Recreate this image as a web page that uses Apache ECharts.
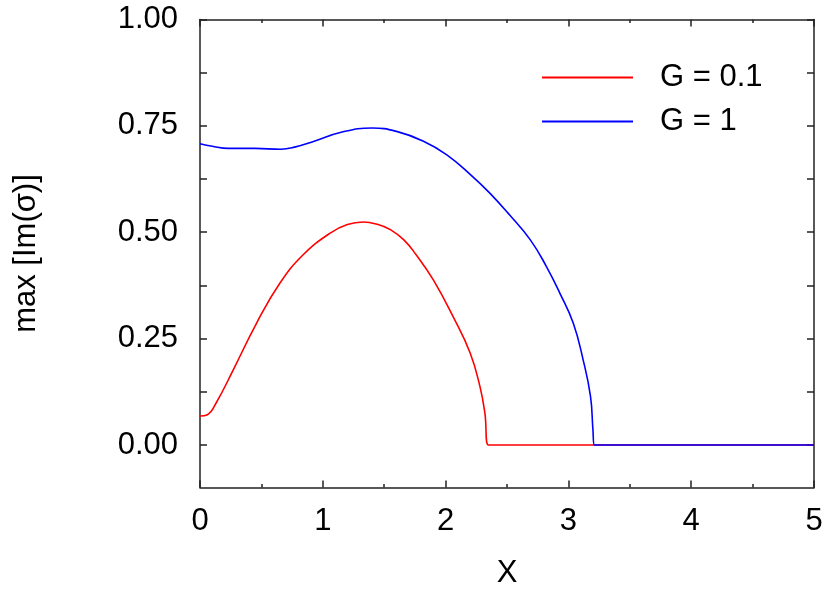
<!DOCTYPE html>
<html>
<head>
<meta charset="utf-8">
<title>max Im(sigma) vs X</title>
<script src="https://cdn.jsdelivr.net/npm/echarts@6/dist/echarts.min.js"></script>
<style>
  html, body { margin: 0; padding: 0; background: #fff; }
  #chart { width: 830px; height: 589px; }
</style>
</head>
<body>
<div id="chart"></div>
<script>
// curve G = 0.1
var xRed = [0, 0.06, 0.13, 0.27, 0.46, 0.65, 0.84, 1.06, 1.20, 1.33, 1.45, 1.55, 1.66, 1.76, 1.90, 2.06, 2.20, 2.28, 2.32, 2.348, 5]
var yRed = [0.068, 0.071, 0.098, 0.176, 0.286, 0.380, 0.447, 0.498, 0.518, 0.524, 0.518, 0.506, 0.482, 0.447, 0.388, 0.302, 0.216, 0.137, 0.075, 0, 0]

// curve G = 1
var xBlue = [0, 0.1, 0.23, 0.45, 0.66, 0.77, 0.93, 1.15, 1.40, 1.60, 1.82, 2.01, 2.20, 2.36, 2.52, 2.69, 2.82, 2.93, 3.04, 3.12, 3.18, 3.20, 3.212, 5]
var yBlue = [0.708, 0.702, 0.697, 0.697, 0.695, 0.700, 0.714, 0.735, 0.745, 0.737, 0.714, 0.682, 0.636, 0.592, 0.541, 0.482, 0.420, 0.357, 0.286, 0.200, 0.114, 0.035, 0, 0]

var seriesNames = ['G = 0.1', 'G = 1']
var yTicks = [0, 0.125, 0.25, 0.375, 0.5, 0.625, 0.75, 0.875, 1]
var yLabels = [0, 0.25, 0.5, 0.75, 1]

function pairs(xs, ys) {
  return xs.map(function (x, i) { return [x, ys[i]] })
}

var font = '"Liberation Sans", Arial, sans-serif'
var frame = { show: true, onZero: false, lineStyle: { color: '#222', width: 1.5 } }

var chart = echarts.init(document.getElementById('chart'))
chart.setOption({
  backgroundColor: '#fff',
  animation: false,
  textStyle: { fontFamily: font },
  grid: {
    left: 200,
    top: 19.5,
    right: 16,
    bottom: 101.5,
    containLabel: false,
    outerBoundsMode: 'none'
  },
  legend: {
    orient: 'vertical',
    left: 537,
    top: 57,
    icon: 'rect',
    itemWidth: 91,
    itemHeight: 2,
    itemGap: 13,
    data: seriesNames,
    textStyle: {
      fontSize: 31,
      lineHeight: 31,
      color: '#000',
      padding: [0, 0, 0, 22]
    }
  },
  xAxis: [{
    type: 'value',
    min: 0,
    max: 5,
    interval: 1,
    position: 'bottom',
    name: 'X',
    nameLocation: 'middle',
    nameGap: 70,
    nameTextStyle: { fontSize: 31, color: '#000' },
    axisLine: frame,
    axisTick: { inside: true, length: 7, lineStyle: { color: '#222', width: 1.5 } },
    minorTick: { show: true, splitNumber: 2, length: 3.5, lineStyle: { color: '#222', width: 1.5 } },
    axisLabel: { fontSize: 31, color: '#000', margin: 18 },
    splitLine: { show: false }
  }, {
    type: 'value',
    min: 0,
    max: 5,
    interval: 1,
    position: 'top',
    axisLine: frame,
    axisTick: { inside: true, length: 7, lineStyle: { color: '#222', width: 1.5 } },
    minorTick: { show: true, splitNumber: 2, length: 3.5, lineStyle: { color: '#222', width: 1.5 } },
    axisLabel: { show: false },
    splitLine: { show: false }
  }],
  yAxis: [{
    type: 'value',
    min: -0.1,
    max: 1,
    position: 'left',
    name: 'max [Im(σ)]',
    nameLocation: 'middle',
    nameRotate: 90,
    nameGap: 158,
    nameTextStyle: { fontSize: 31, color: '#000' },
    axisLine: frame,
    axisTick: { inside: true, length: 7, customValues: yTicks, lineStyle: { color: '#222', width: 1.5 } },
    axisLabel: {
      fontSize: 31,
      color: '#000',
      margin: 22,
      customValues: yLabels,
      formatter: function (v) { return v.toFixed(2) }
    },
    splitLine: { show: false }
  }, {
    type: 'value',
    min: -0.1,
    max: 1,
    position: 'right',
    axisLine: frame,
    axisTick: { inside: true, length: 7, customValues: yTicks, lineStyle: { color: '#222', width: 1.5 } },
    axisLabel: { show: false },
    splitLine: { show: false }
  }],
  series: [{
    name: seriesNames[0],
    type: 'line',
    xAxisIndex: 0,
    yAxisIndex: 0,
    showSymbol: false,
    symbol: 'none',
    smooth: 0.45,
    itemStyle: { color: '#ff0000' },
    lineStyle: { color: '#ff0000', width: 1.6 },
    data: pairs(xRed, yRed)
  }, {
    name: seriesNames[1],
    type: 'line',
    xAxisIndex: 0,
    yAxisIndex: 0,
    showSymbol: false,
    symbol: 'none',
    smooth: 0.45,
    itemStyle: { color: '#0000ff' },
    lineStyle: { color: '#0000ff', width: 1.6 },
    data: pairs(xBlue, yBlue)
  }]
})
</script>
</body>
</html>
